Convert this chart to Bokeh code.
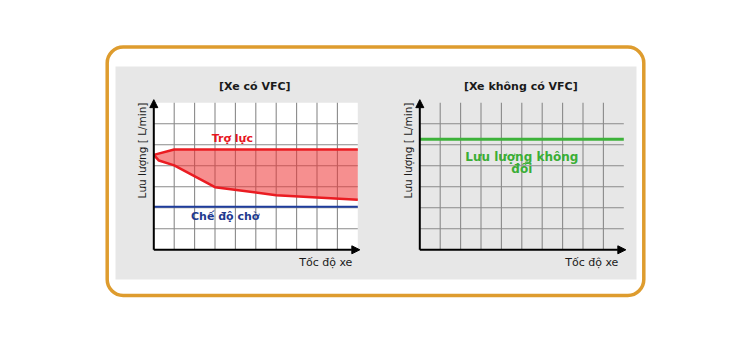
from bokeh.plotting import figure
from bokeh.models import Range1d, BoxAnnotation, Arrow, NormalHead
from bokeh.core.properties import value
from bokeh.embed import file_html
from bokeh.resources import INLINE
import math

# ---------------- data ----------------
titles = ["[Xe có VFC]", "[Xe không có VFC]"]
x_label = "Tốc độ xe"
y_label = "Lưu lượng [ L/min]"
x_grid = [1, 2, 3, 4, 5, 6, 7, 8, 9]
y_grid = [1, 2, 3, 4, 5, 6]
x_max = 10
y_max = 7

assist_top_x = [0, 1, 10]
assist_top_y = [4.52, 4.78, 4.78]
assist_bot_x = [0, 0.25, 1, 3, 6, 10]
assist_bot_y = [4.52, 4.25, 4.02, 2.98, 2.6, 2.38]
standby_y = 2.05
constant_y = 5.27
assist_label = ["Trợ lực"]
standby_label = ["Chế độ chờ"]
constant_label = ["Lưu lượng không", "đổi"]

# ---------------- layout ----------------
PAGE_L, PAGE_T = 0, 0
W, H = 740, 350
FONT = value("DejaVu Sans")

p = figure(width=W, height=H, x_range=Range1d(PAGE_L, PAGE_L + W),
           y_range=Range1d(PAGE_T + H, PAGE_T),
           x_axis_type=None, y_axis_type=None, toolbar_location=None,
           output_backend="svg", min_border=0)
p.outline_line_color = None
p.background_fill_color = "white"
p.border_fill_color = "white"

# chart scales (pixel origin of each chart + pixels per unit)
SX, SY = 20.4, 21.0
charts = {"L": (153.3, 249.3), "R": (419.3, 249.3)}
xr, yr = {}, {}
for k, (x0, y0) in charts.items():
    xr[k] = Range1d((PAGE_L - x0) / SX, (PAGE_L + W - x0) / SX)
    yr[k] = Range1d((y0 - (PAGE_T + H)) / SY, (y0 - PAGE_T) / SY)
p.extra_x_ranges = {"x" + k: v for k, v in xr.items()}
p.extra_y_ranges = {"y" + k: v for k, v in yr.items()}

# frame & textured panel
p.add_layout(BoxAnnotation(left=106.7, right=643.3, top=46.5, bottom=295,
                           fill_color="white", fill_alpha=1, line_color="#DE9C2E",
                           line_alpha=1, line_width=3.5,
                           border_radius=16, level="underlay"))
p.add_layout(BoxAnnotation(left=115, right=636, top=66, bottom=279,
                           fill_color="#E7E7E7", fill_alpha=1, line_color=None,
                           level="underlay"))

for i, k in enumerate(["L", "R"]):
    kw = dict(x_range_name="x" + k, y_range_name="y" + k)
    if k == "L":
        p.quad(left=0, right=x_max, bottom=0, top=y_max, fill_color="white",
               line_color=None, **kw)
    # grid
    p.segment(x0=x_grid, x1=x_grid, y0=[0] * len(x_grid), y1=[y_max] * len(x_grid),
              line_color="#8A8A8A", line_width=1.1, **kw)
    p.segment(x0=[0] * len(y_grid), x1=[x_max] * len(y_grid), y0=y_grid, y1=y_grid,
              line_color="#8A8A8A", line_width=1.1, **kw)
    if k == "L":
        xs = assist_top_x + assist_bot_x[::-1]
        ys = assist_top_y + assist_bot_y[::-1]
        p.patch(xs, ys, fill_color="#EE3333", fill_alpha=0.55, line_color=None, **kw)
        p.line(assist_top_x, assist_top_y, line_color="#EA1C22", line_width=2.5, **kw)
        p.line(assist_bot_x, assist_bot_y, line_color="#EA1C22", line_width=2.5, **kw)
        p.segment(x0=[0], x1=[x_max], y0=[standby_y], y1=[standby_y],
                  line_color="#1E3C9C", line_width=2.2, **kw)
        p.text(x=[3.85], y=[5.32], text=assist_label, text_font=FONT,
               text_font_style="bold", text_font_size="11px", text_color="#E8161E",
               text_align="center", text_baseline="middle", **kw)
        p.text(x=[3.5], y=[1.6], text=standby_label, text_font=FONT,
               text_font_style="bold", text_font_size="11px", text_color="#1F3A8F",
               text_align="center", text_baseline="middle", **kw)
    else:
        p.segment(x0=[0], x1=[x_max], y0=[constant_y], y1=[constant_y],
                  line_color="#3DB23A", line_width=3, **kw)
        p.text(x=[5.0, 5.0], y=[4.4, 3.84], text=constant_label, text_font=FONT,
               text_font_style="bold", text_font_size="12px", text_color="#3AAE36",
               text_align="center", text_baseline="middle", **kw)
    # axes with arrows
    p.add_layout(Arrow(end=NormalHead(size=8, fill_color="black", line_color="black"),
                       x_start=0, y_start=0, x_end=x_max + 0.1, y_end=0,
                       line_width=2, line_color="black", **kw))
    p.add_layout(Arrow(end=NormalHead(size=8, fill_color="black", line_color="black"),
                       x_start=0, y_start=0, x_end=0, y_end=y_max + 0.15,
                       line_width=2, line_color="black", **kw))
    # titles & labels
    p.text(x=[4.95], y=[7.78], text=[titles[i]], text_font=FONT, text_font_style="bold",
           text_font_size="11px", text_color="#1A1A1A", text_align="center",
           text_baseline="middle", **kw)
    p.text(x=[8.43], y=[-0.6], text=[x_label], text_font=FONT, text_font_size="11px",
           text_color="#1A1A1A", text_align="center", text_baseline="middle", **kw)
    p.text(x=[-0.58], y=[4.73], text=[y_label], text_font=FONT, text_font_size="10.5px",
           text_color="#1A1A1A", text_align="center", text_baseline="middle",
           angle=math.pi / 2, **kw)

open("out.html", "w").write(file_html(p, INLINE))
